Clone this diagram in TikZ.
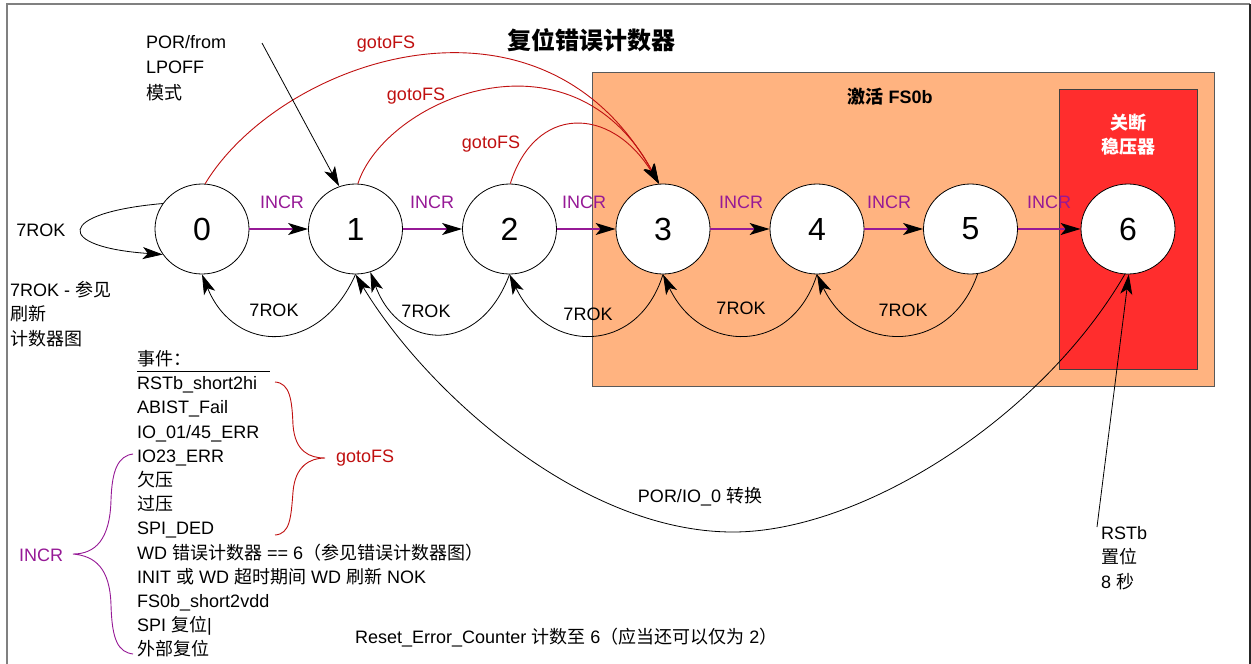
\documentclass[tikz,border=0pt]{standalone}
\usepackage{fontspec}
\setmainfont{Liberation Sans}
\newfontfamily\cjk{Noto Sans CJK SC}
\newcommand\zht[1]{{\cjk #1}}
\usetikzlibrary{arrows.meta,shapes.geometric}
\definecolor{incrc}{RGB}{150,25,150}
\definecolor{gotoc}{RGB}{192,16,16}
\definecolor{orangebox}{RGB}{255,179,128}
\definecolor{redbox}{RGB}{255,45,45}
\definecolor{framec}{RGB}{128,128,128}
\begin{document}
\begin{tikzpicture}[x=1pt,y=-1pt,
  arrtip/.style={-{Stealth[length=20pt,width=12pt,inset=5pt,color=black]}},
  state/.style={ellipse,draw,fill=white,minimum width=94pt,minimum height=90pt,inner sep=0pt,line width=0.8pt,font=\fontsize{32}{36}\selectfont},
  incr/.style={arrtip,draw=incrc,line width=1.3pt},
  rok/.style={arrtip,draw=black,line width=0.8pt},
  goto/.style={arrtip,draw=gotoc,line width=0.9pt},
  lbl/.style={inner sep=0pt,font=\fontsize{18}{24.2}\selectfont},
  incrlbl/.style={lbl,text=incrc},
  gotolbl/.style={lbl,text=gotoc},
  brace/.style={line width=0.9pt},
]
\useasboundingbox (0,0) rectangle (1251,664);
\fill[white] (0,0) rectangle (1251,664);
% frame
\draw[framec,line width=1.5pt] (7,664) -- (7,4) -- (1250,4);
\draw[black!85,line width=1.2pt] (1250,4) -- (1250,664);
% boxes
\draw[draw=black!65,fill=orangebox,line width=1pt] (592,72) rectangle (1214,386);
\draw[draw=black!75,fill=redbox,line width=1pt] (1059,89) rectangle (1197,369);
% title and box labels
\node[lbl,font=\fontsize{24}{24}\selectfont\bfseries] (title) at (591,40) {\zht{复位错误计数器}};
\node[lbl,font=\fontsize{18}{18}\selectfont\bfseries] (fsb) at (890,97) {\zht{激活} FS0b};
\node[lbl,font=\fontsize{18}{24}\selectfont\bfseries,text=white,align=center] (regoff) at (1128,135) {\zht{关断}\\\zht{稳压器}};
% states
\node[state] (s0) at (202,229) {0};
\node[state] (s1) at (355.5,229) {1};
\node[state] (s2) at (509.5,229) {2};
\node[state] (s3) at (663,229) {3};
\node[state] (s4) at (817,229) {4};
\node[state] (s5) at (970.5,229) {5};
\node[state] (s6) at (1128,229) {6};
% INCR transitions
\draw[incr] (s0) -- (s1);
\draw[incr] (s1) -- (s2);
\draw[incr] (s2) -- (s3);
\draw[incr] (s3) -- (s4);
\draw[incr] (s4) -- (s5);
\draw[incr] (s5) -- (s6);
\node[incrlbl] (i01) at (282,202) {INCR};
\node[incrlbl] (i12) at (432,202) {INCR};
\node[incrlbl] (i23) at (584,202) {INCR};
\node[incrlbl] (i34) at (741,202) {INCR};
\node[incrlbl] (i45) at (889,202) {INCR};
\node[incrlbl] (i56) at (1049,202) {INCR};
% 7ROK transitions
\draw[rok] (s0.147) .. controls (55,213) and (55,247) .. (s0.213);
\node[lbl] (rokself) at (41,230) {7ROK};
\draw[rok] (s1.south) .. controls (320,355) and (235,355) .. (s0.south);
\draw[rok] (s2.south) .. controls (480,355) and (400,352) .. (s1.289);
\draw[rok] (s3.south) .. controls (638,355) and (548,355) .. (s2.south);
\draw[rok] (s4.south) .. controls (792,355) and (701,355) .. (s3.south);
\draw[rok] (s5.279) .. controls (950,355) and (855,355) .. (s4.south);
\node[lbl] (r10) at (274,310) {7ROK};
\node[lbl] (r21) at (426,311) {7ROK};
\node[lbl] (r32) at (588,314) {7ROK};
\node[lbl] (r43) at (741,308) {7ROK};
\node[lbl] (r54) at (903,310) {7ROK};
% gotoFS transitions
\draw[goto] (s0.86) .. controls (280,60) and (540,-30) .. (s3.95);
\draw[goto] (s1.87) .. controls (385,100) and (570,20) .. (s3.95);
\draw[goto] (s2.89) .. controls (535,105) and (610,105) .. (s3.95);
\node[gotolbl] (g0) at (386,44) {gotoFS};
\node[gotolbl] (g1) at (416,96) {gotoFS};
\node[gotolbl] (g2) at (491,144) {gotoFS};
% POR entry
\node[lbl,align=left,anchor=west,font=\fontsize{18}{25.5}\selectfont] (por) at (146,68) {POR/from\\LPOFF\\\zht{模式}};
\coordinate (porsrc) at (262,43);
\draw[rok] (porsrc) -- (s1.111);
% POR/IO_0 transition
\draw[rok] (s6.266) .. controls (1040,420) and (860,532) .. (733,532) .. controls (580,532) and (425,390) .. (s1.south);
\node[lbl] (porio) at (700,497) {POR/IO\_0 \zht{转换}};
% RSTb
\node[lbl,align=left,anchor=west] (rstb) at (1101,558) {RSTb\\\zht{置位}\\8 \zht{秒}};
\coordinate (rstbsrc) at (1097,527);
\draw[rok] (rstbsrc) -- (s6.271);
% left note
\node[lbl,align=left,anchor=west,font=\fontsize{18}{24.5}\selectfont] (note) at (10,314) {7ROK - \zht{参见}\\\zht{刷新}\\\zht{计数器图}};
% events
\node[lbl,anchor=west] (evhead) at (137,359) {\zht{事件：}};
\draw[line width=0.8pt] (137,371) -- (270,371);
\node[lbl,align=left,anchor=west] (events) at (137,517) {RSTb\_short2hi\\ABIST\_Fail\\IO\_01/45\_ERR\\IO23\_ERR\\\zht{欠压}\\\zht{过压}\\SPI\_DED\\WD \zht{错误计数器} == 6\zht{（参见错误计数器图）}\\INIT \zht{或} WD \zht{超时期间} WD \zht{刷新} NOK\\FS0b\_short2vdd\\SPI \zht{复位}|\\\zht{外部复位}};
% braces
\draw[brace,gotoc] (275,382) .. controls (290,383) and (292,400) .. (293,425) .. controls (295,452) and (310,458) .. (325,458) .. controls (310,458) and (295,466) .. (293,492) .. controls (291,518) and (290,534) .. (275,535);
\node[gotolbl,anchor=west] (gbrace) at (336,458) {gotoFS};
\draw[brace,incrc] (133,454) .. controls (118,456) and (112,470) .. (111,500) .. controls (110,540) and (95,554) .. (73,554) .. controls (95,556) and (110,568) .. (111,605) .. controls (112,640) and (118,652) .. (133,654);
\node[incrlbl,anchor=west] (ibrace) at (19,555) {INCR};
% bottom note
\node[lbl,anchor=west] (reset) at (355,638) {Reset\_Error\_Counter \zht{计数至} 6\zht{（应当还可以仅为} 2\zht{）}};
\end{tikzpicture}
\end{document}
